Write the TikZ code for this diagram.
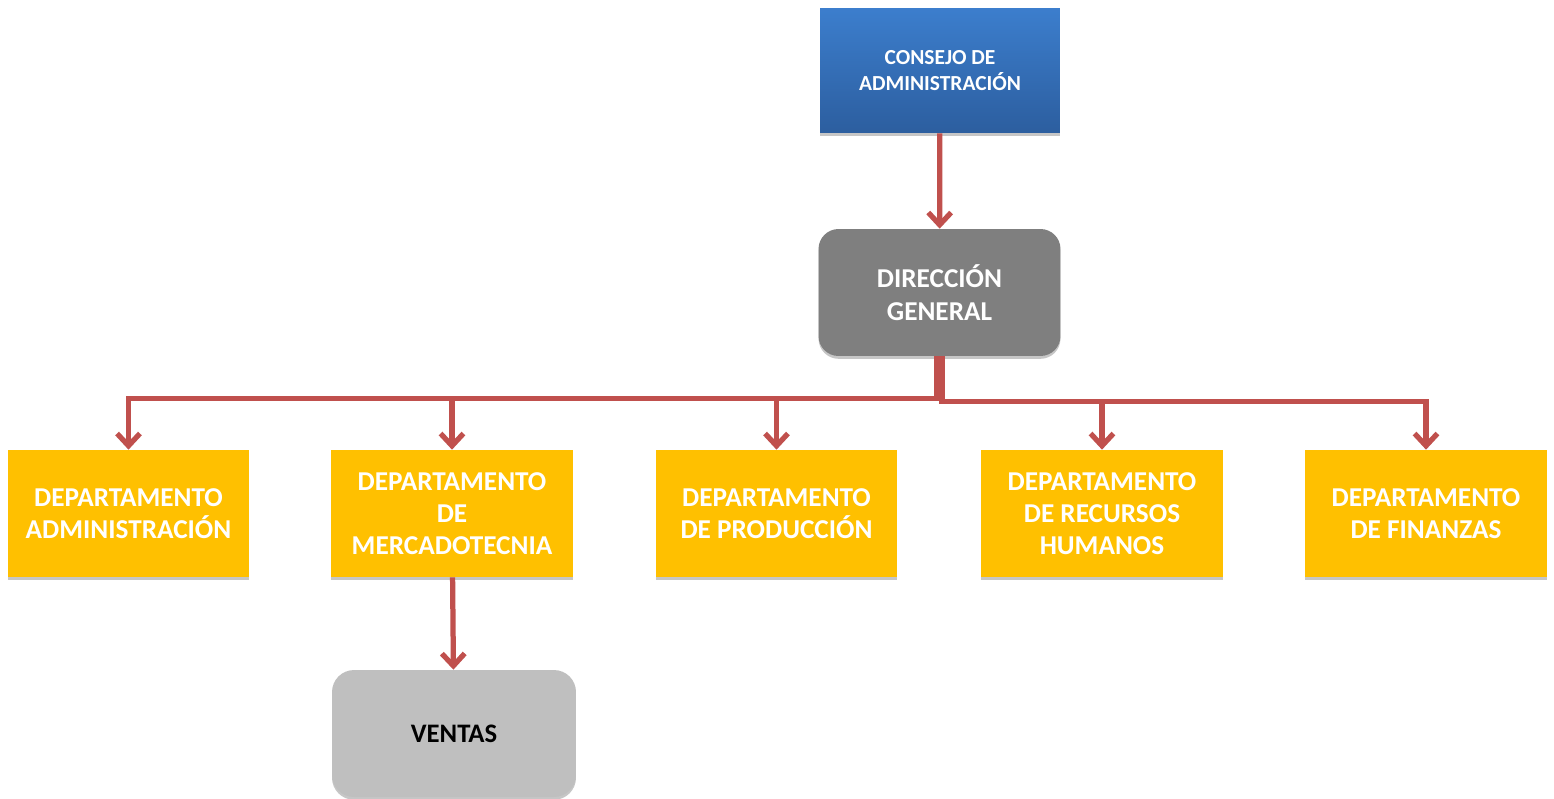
\documentclass[tikz,border=0pt]{standalone}
\usepackage{fontspec}
\setmainfont{Carlito}
\usetikzlibrary{positioning,arrows.meta,shadows}
\definecolor{linkred}{HTML}{C0504D}
\definecolor{deptyellow}{HTML}{FFC000}
\definecolor{dirgray}{HTML}{7F7F7F}
\definecolor{salesgray}{HTML}{BFBFBF}
\definecolor{boardtop}{HTML}{3C7ECD}
\definecolor{boardbot}{HTML}{2C5E9F}
\begin{document}
\begin{tikzpicture}[x=0.02cm, y=-0.02cm,
    box/.style={minimum width=4.84cm, minimum height=2.54cm, align=center, inner sep=0pt,
      drop shadow={shadow xshift=0pt, shadow yshift=-1.6pt, opacity=0.45}},
    board/.style={box, minimum width=4.8cm, minimum height=2.5cm, top color=boardtop, bottom color=boardbot,
      text=white, font=\bfseries\fontsize{12.2}{14.8}\selectfont},
    head/.style={box, rounded corners=0.4cm, fill=dirgray, text=white, font=\bfseries\fontsize{15.5}{18.8}\selectfont},
    dept/.style={box, fill=deptyellow, text=white, font=\bfseries\fontsize{15.5}{18.2}\selectfont},
    sales/.style={box, minimum width=4.88cm, rounded corners=0.44cm, fill=salesgray, text=black, font=\bfseries\fontsize{15.2}{18.2}\selectfont},
    link/.style={draw=linkred, line width=0.105cm, -{Straight Barb[length=7pt,width=13pt]}}]
    \useasboundingbox (0,0) rectangle (1554,798);

    \node[board] (consejo) at (940,70.5) {CONSEJO DE\\ADMINISTRACIÓN};
    \node[head] (direccion) at (939.5,292.5) {DIRECCIÓN\\GENERAL};

    \node[dept] (admin) at (128.5,513.5) {DEPARTAMENTO\\ADMINISTRACIÓN};
    \node[dept] (merca) at (452,513.5) {DEPARTAMENTO\\DE\\MERCADOTECNIA};
    \node[dept] (produ) at (776.5,513.5) {DEPARTAMENTO\\DE PRODUCCIÓN};
    \node[dept] (rrhh) at (1102,513.5) {DEPARTAMENTO\\DE RECURSOS\\HUMANOS};
    \node[dept] (finan) at (1426,513.5) {DEPARTAMENTO\\DE FINANZAS};

    \node[sales] (ventas) at (454,733.5) {VENTAS};

    % links
    \draw[link] (consejo) -- (direccion);
    \draw[link] ([xshift=-0.05cm]direccion.south) -- ++(0,42) -| (admin);
    \draw[link] ([xshift=-0.05cm]direccion.south) -- ++(0,42) -| (merca);
    \draw[link] ([xshift=-0.05cm]direccion.south) -- ++(0,42) -| (produ);
    \draw[link] ([xshift=0.05cm]direccion.south) -- ++(0,45) -| (rrhh);
    \draw[link] ([xshift=0.05cm]direccion.south) -- ++(0,45) -| (finan);
    \draw[link] (merca) -- (ventas);
\end{tikzpicture}
\end{document}
